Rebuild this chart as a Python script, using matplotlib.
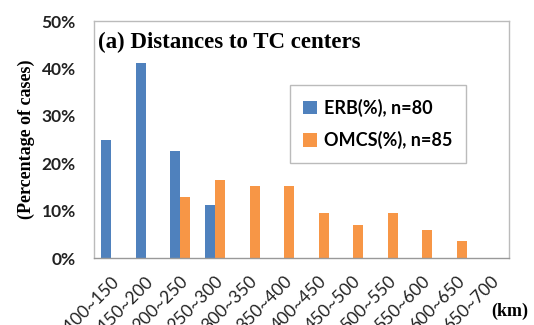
import numpy as np
import matplotlib
matplotlib.use("Agg")
import matplotlib.pyplot as plt
import matplotlib.transforms as mtransforms

categories = ["100~150", "150~200", "200~250", "250~300", "300~350", "350~400",
              "400~450", "450~500", "500~550", "550~600", "600~650", "650~700"]
erb = [25.0, 41.25, 22.5, 11.25, 0, 0, 0, 0, 0, 0, 0, 0]
omcs = [0, 0, 12.94, 16.47, 15.29, 15.29, 9.41, 7.06, 9.41, 5.88, 3.53, 0]
yticks = [0, 10, 20, 30, 40, 50]

blue = "#4F81BD"
orange = "#F79646"
sans = ["Lato", "DejaVu Sans"]
serif = ["Liberation Serif", "DejaVu Serif"]

fig = plt.figure(figsize=(5.34, 3.25), dpi=100)
ax = fig.add_axes([0.176, 0.206, 0.777, 0.729])

x = np.arange(len(categories))
w = 0.29
ax.bar(x - w / 2, erb, w, color=blue, label="ERB(%), n=80")
ax.bar(x + w / 2, omcs, w, color=orange, label="OMCS(%), n=85")

ax.set_xlim(-0.5, len(categories) - 0.5)
ax.set_ylim(0, 50)
ax.set_yticks(yticks)
ax.set_yticklabels([f"{v}%" for v in yticks], family=sans, fontsize=12.5,
                   fontweight="bold", color="#222222")
ax.set_xticks(x)
ax.set_xticklabels(categories, family=sans, fontsize=12.5, rotation=45,
                   ha="right", va="center", rotation_mode="anchor", color="#222222")
ax.tick_params(axis="y", length=0, pad=13)
ax.tick_params(axis="x", length=0, pad=15)

# nudge the slanted category labels a little to the right of their ticks
shift = mtransforms.ScaledTranslation(5 / 100, 0, fig.dpi_scale_trans)
for lbl in ax.get_xticklabels():
    lbl.set_transform(lbl.get_transform() + shift)

for s in ax.spines.values():
    s.set_color("#BBBBBB")
    s.set_linewidth(1.0)
ax.spines["bottom"].set_color("#999999")

ax.text(0.01, 0.91, "(a) Distances to TC centers", transform=ax.transAxes,
        family=serif, fontsize=16.5, fontweight="bold", va="center", ha="left")

ax.set_ylabel("(Percentage of cases)", family=serif, fontsize=13,
              fontweight="bold", labelpad=5)

fig.text(0.99, 0.043, "(km)", family=serif, fontsize=13, fontweight="bold",
         ha="right", va="center")

leg = ax.legend(loc="upper left", bbox_to_anchor=(0.472, 0.73),
                prop={"family": sans, "size": 13, "weight": "bold"},
                frameon=True, fancybox=False, handlelength=0.75, handleheight=0.75,
                labelspacing=0.8, borderpad=0.75, handletextpad=0.4,
                borderaxespad=0)
leg.get_frame().set_edgecolor("#AAAAAA")
leg.get_frame().set_linewidth(1.0)

fig.savefig("out.png", dpi=100)
